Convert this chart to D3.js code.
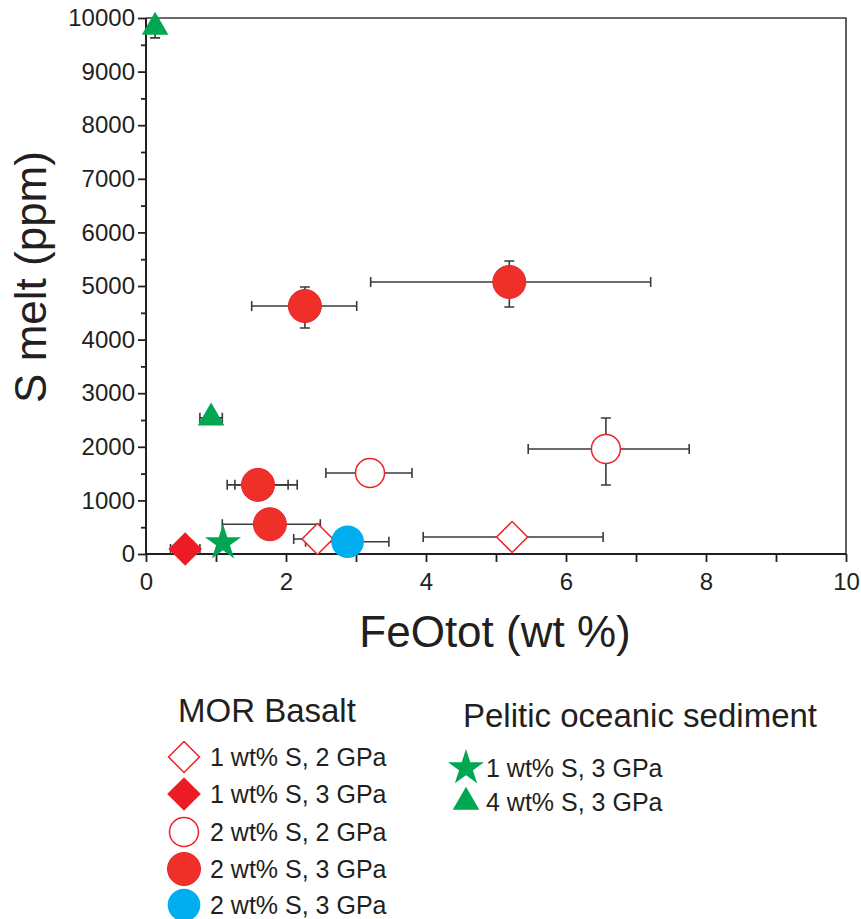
<!DOCTYPE html>
<html>
<head>
<meta charset="utf-8">
<script src="https://cdn.jsdelivr.net/npm/d3@7"></script>
<style>
  body { margin: 0; background: #fff; }
  svg { display: block; font-family: "Liberation Sans", Arial, sans-serif; }
</style>
</head>
<body>
<div id="plot"></div>
<script>
// values: x = FeOtot (wt %), y = S melt (ppm)
// error bars given as low/high ends (null = not drawn)
const morOpenDiamond = [
  { x: 2.45, y: 280, xlo: 2.11, xhi: 2.79 },
  { x: 5.23, y: 317, xlo: 3.96, xhi: 6.53 }
];
const morFilledDiamond = [
  { x: 0.56, y: 93, xlo: 0.35, xhi: 0.77 },
  { x: 1.58, y: 1290, xlo: 1.16, xhi: 2.16 }
];
const morOpenCircle = [
  { x: 6.57, y: 1959, xlo: 5.46, xhi: 7.76, ylo: 1287, yhi: 2537 },
  { x: 3.20, y: 1511, xlo: 2.57, xhi: 3.80 }
];
const morFilledCircle = [
  { x: 2.27, y: 4627, xlo: 1.51, xhi: 3.01, ylo: 4216, yhi: 4981 },
  { x: 5.19, y: 5075, xlo: 3.21, xhi: 7.21, ylo: 4608, yhi: 5466 },
  { x: 1.60, y: 1290, xlo: 1.27, xhi: 2.03 },
  { x: 1.77, y: 555, xlo: 1.09, xhi: 2.49 }
];
const morBlueCircle = [
  { x: 2.88, y: 229, xlo: 2.28, xhi: 3.47 }
];
const sedStar = [
  { x: 1.10, y: 205 }
];
const sedTriangle = [
  { x: 0.13, y: 9830, ylo: 9630 },
  { x: 0.93, y: 2540, xlo: 0.77, xhi: 1.09 }
];

const xTicks = d3.range(0, 11, 1);
const yTicks = d3.range(0, 10001, 500);

const morLabels = ['1 wt% S, 2 GPa', '1 wt% S, 3 GPa', '2 wt% S, 2 GPa', '2 wt% S, 3 GPa', '2 wt% S, 3 GPa'];
const sedLabels = ['1 wt% S, 3 GPa', '4 wt% S, 3 GPa'];

const red = '#ed2227', redFill = '#ef3029', green = '#00a651', blue = '#00aeef', ink = '#231f20';

function plot() {
  var width = 861, height = 919;
  var left = 146, right = 846, top = 18, bottom = 554;

  var svg = d3.select('#plot').append('svg')
      .attr('width', width)
      .attr('height', height);

  var x = d3.scaleLinear().domain([0, 10]).range([left, right]);
  var y = d3.scaleLinear().domain([0, 10000]).range([bottom, top]);

  // frame (top + right)
  svg.append('path')
      .attr('d', `M${left},${top}H${right}V${bottom}`)
      .attr('fill', 'none')
      .attr('stroke', '#3a3a3a')
      .attr('stroke-width', 1.6);

  var xAxis = svg.append('g')
      .attr('transform', `translate(0,${bottom})`)
      .call(d3.axisBottom(x).tickValues(xTicks).tickSize(8).tickPadding(11)
        .tickFormat(d => d % 2 === 0 ? d : ''));

  var yAxis = svg.append('g')
      .attr('transform', `translate(${left},0)`)
      .call(d3.axisLeft(y).tickValues(yTicks).tickSize(8).tickPadding(3)
        .tickFormat(d => d % 1000 === 0 ? d : ''));
  yAxis.selectAll('.tick line').attr('x2', d => d % 1000 === 0 ? -8 : -5);

  [xAxis, yAxis].forEach(a => {
    a.select('.domain').attr('stroke', ink).attr('stroke-width', 2);
    a.selectAll('.tick line').attr('stroke', ink).attr('stroke-width', 1.8);
    a.selectAll('text').attr('font-size', 24).attr('fill', ink)
      .attr('font-family', '"Liberation Sans", Arial, sans-serif');
  });
  xAxis.select('.domain').attr('d', `M${left},0H${right}`);
  yAxis.select('.domain').attr('d', `M0,${bottom}V${top}`);

  svg.append('text')
      .attr('transform', `translate(46,277) rotate(-90)`)
      .attr('text-anchor', 'middle')
      .attr('font-size', 44)
      .attr('fill', ink)
      .text('S melt (ppm)');

  svg.append('text')
      .attr('x', 495).attr('y', 647)
      .attr('text-anchor', 'middle')
      .attr('font-size', 44)
      .attr('fill', ink)
      .text('FeOtot (wt %)');

  // error bars
  var all = [].concat(morOpenDiamond, morFilledDiamond, morOpenCircle, morFilledCircle,
                      morBlueCircle, sedStar, sedTriangle);
  var eb = svg.append('g')
      .attr('stroke', '#3b3b3b')
      .attr('stroke-width', 1.6)
      .attr('fill', 'none');
  var cap = 5;
  all.forEach(d => {
    if (d.xlo != null) {
      eb.append('path').attr('d',
        `M${x(d.xlo)},${y(d.y)}H${x(d.xhi)}` +
        `M${x(d.xlo)},${y(d.y) - cap}v${2 * cap}` +
        `M${x(d.xhi)},${y(d.y) - cap}v${2 * cap}`);
    }
    if (d.ylo != null) {
      var hi = d.yhi != null ? d.yhi : d.y;
      var p = `M${x(d.x)},${y(d.ylo)}V${y(hi)}M${x(d.x) - cap},${y(d.ylo)}h${2 * cap}`;
      if (d.yhi != null) p += `M${x(d.x) - cap},${y(d.yhi)}h${2 * cap}`;
      eb.append('path').attr('d', p);
    }
  });

  var sym = {
    openDiamond: { type: d3.symbolSquare, size: 2 * 15.5 * 15.5, rot: 45, fill: '#fff', stroke: red, sw: 1.5 },
    filledDiamond: { type: d3.symbolSquare, size: 2 * 16.8 * 16.8, rot: 45, fill: '#ed1c24', stroke: 'none', sw: 0 },
    openCircle: { type: d3.symbolCircle, size: Math.PI * 14.5 * 14.5, rot: 0, fill: '#fff', stroke: red, sw: 1.5 },
    filledCircle: { type: d3.symbolCircle, size: Math.PI * 16.5 * 16.5, rot: 0, fill: redFill, stroke: '#e8262b', sw: 1 },
    blueCircle: { type: d3.symbolCircle, size: Math.PI * 16.3 * 16.3, rot: 0, fill: blue, stroke: 'none', sw: 0 },
    star: { type: d3.symbolStar, size: 19 * 19 / 0.8908, rot: 0, fill: green, stroke: 'none', sw: 0 },
    triangle: { type: d3.symbolTriangle, size: 306, rot: 0, fill: green, stroke: 'none', sw: 0 }
  };

  function marks(data, s) {
    svg.append('g').selectAll('path')
      .data(data)
      .join('path')
        .attr('d', d3.symbol().type(s.type).size(s.size))
        .attr('transform', d => `translate(${x(d.x)},${y(d.y)}) rotate(${s.rot})`)
        .attr('fill', s.fill)
        .attr('stroke', s.stroke)
        .attr('stroke-width', s.sw);
  }

  marks(morFilledDiamond, sym.filledDiamond);
  marks(morOpenDiamond, sym.openDiamond);
  marks(morOpenCircle, sym.openCircle);
  marks(morFilledCircle, sym.filledCircle);
  marks(morBlueCircle, sym.blueCircle);
  marks(sedStar, sym.star);
  marks(sedTriangle, sym.triangle);

  // legend
  var lg = svg.append('g').attr('fill', ink);
  lg.append('text').attr('x', 178).attr('y', 722).attr('font-size', 33).text('MOR Basalt');
  lg.append('text').attr('x', 463).attr('y', 727).attr('font-size', 33).text('Pelitic oceanic sediment');

  var morSyms = [sym.openDiamond, sym.filledDiamond, sym.openCircle, sym.filledCircle, sym.blueCircle];
  var morRows = [757, 794, 832, 869, 905];
  morLabels.forEach((t, i) => {
    var s = morSyms[i];
    lg.append('path')
      .attr('d', d3.symbol().type(s.type).size(s.size)())
      .attr('transform', `translate(184,${morRows[i]}) rotate(${s.rot})`)
      .attr('fill', s.fill).attr('stroke', s.stroke).attr('stroke-width', s.sw);
    lg.append('text').attr('x', 210).attr('y', morRows[i] + 9).attr('font-size', 25).text(t);
  });

  var sedSyms = [sym.star, sym.triangle];
  var sedRows = [768, 802];
  sedLabels.forEach((t, i) => {
    var s = sedSyms[i];
    lg.append('path')
      .attr('d', d3.symbol().type(s.type).size(s.size)())
      .attr('transform', `translate(466,${sedRows[i]})`)
      .attr('fill', s.fill);
    lg.append('text').attr('x', 486).attr('y', sedRows[i] + 9).attr('font-size', 25).text(t);
  });
}

plot();
</script>
</body>
</html>
